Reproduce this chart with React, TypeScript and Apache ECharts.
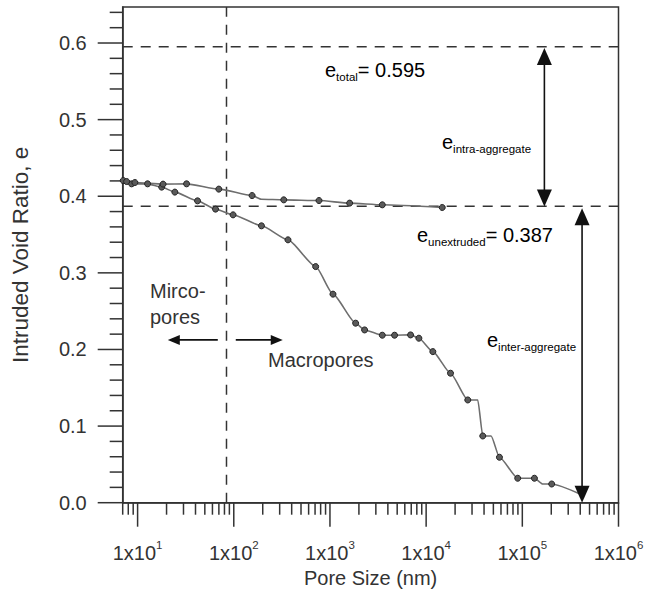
import React, { useEffect, useRef } from "react";
import * as echarts from "echarts";

// ---- data ----
// intrusion (lower) curve: pore size (nm), void ratio e, circle marker drawn (1) or not (0)
const intrusionSize = [7.09, 8.66, 12.7, 17.8, 24.4, 42.0, 64.6, 98.3, 194, 366, 710, 1075, 1849, 2292, 3501, 4697, 6887, 8401, 11740, 17920, 27100, 34430, 38800, 47400, 57830, 89600, 133600, 162800, 202000, 408000];
const intrusionE = [0.4205, 0.4162, 0.4162, 0.4119, 0.4054, 0.394, 0.3832, 0.3757, 0.3614, 0.3431, 0.3082, 0.2722, 0.2343, 0.2255, 0.2186, 0.2186, 0.219, 0.2147, 0.1972, 0.169, 0.1341, 0.1341, 0.0871, 0.0871, 0.0593, 0.0319, 0.0319, 0.0244, 0.0244, 0.0107];
const intrusionMarked = [1, 1, 1, 1, 1, 1, 1, 1, 1, 1, 1, 1, 1, 1, 1, 1, 1, 1, 1, 1, 1, 0, 1, 0, 1, 1, 1, 0, 1, 0];

// extrusion (upper) curve
const extrusionSize = [7.09, 7.69, 9.37, 18.4, 32.3, 69.9, 155, 194, 331, 769, 1602, 3501, 14700];
const extrusionE = [0.4205, 0.4192, 0.4179, 0.4158, 0.4162, 0.4093, 0.4009, 0.396, 0.3953, 0.3944, 0.391, 0.3888, 0.3853];
const extrusionMarked = [0, 1, 1, 1, 1, 1, 1, 0, 1, 1, 1, 1, 1];

// reference levels
const eTotal = 0.595;
const eUnextruded = 0.387;
const poreBoundary = 84; // nm, micro / macro boundary

// axes
const xMin = 7;
const xMax = 1e6;
const yMin = 0;
const yMax = 0.647;
const xMajorTicks = [10, 100, 1000, 10000, 100000, 1000000];
const xMinorMultipliers = [2, 3, 4, 5, 6, 7, 8, 9];
const xLeadingMinorTicks = [7, 8, 9];
const yMajorTicks = [0, 0.1, 0.2, 0.3, 0.4, 0.5, 0.6];
const yMinorSteps = [0.02, 0.04, 0.06, 0.08];
const yTickLabels = ["0.0", "0.1", "0.2", "0.3", "0.4", "0.5", "0.6"];

// annotation arrows: [x1, y1, x2, y2] (head at both ends for vertical ones, at end for horizontal)
const vArrows = [
  [169600, 0.5934, 169600, 0.3866],
  [418000, 0.3843, 418000, 0.0],
];
const hArrows = [
  [68.2, 0.2125, 20.6, 0.2125],
  [104.9, 0.2125, 322.8, 0.2125],
];

const FONT = "'Liberation Sans', Arial, Helvetica, sans-serif";
const INK = "#333";

export default function App() {
  const ref = useRef<HTMLDivElement>(null);

  useEffect(() => {
    if (!ref.current) return;
    const chart = echarts.init(ref.current, undefined, { renderer: "svg" });

    const xMinor: number[] = [...xLeadingMinorTicks];
    for (let i = 0; i < xMajorTicks.length - 1; i++) {
      for (const m of xMinorMultipliers) xMinor.push(xMajorTicks[i] * m);
    }
    const yMinor: number[] = [];
    for (let i = 0; i < yMajorTicks.length; i++) {
      for (const s of yMinorSteps) {
        const v = +(yMajorTicks[i] + s).toFixed(3);
        if (v < yMax) yMinor.push(v);
      }
    }

    const xTickData = [
      ...xMajorTicks.map((v) => [v, yMin, 24]),
      ...xMinor.map((v) => [v, yMin, 12]),
    ];
    const yTickData = [
      ...yMajorTicks.map((v) => [xMin, v, 25]),
      ...yMinor.map((v) => [xMin, v, 13]),
    ];

    const curve = (xs: number[], ys: number[], mk: number[]) =>
      xs.map((x, i) => ({ value: [x, ys[i]], symbol: mk[i] ? "circle" : "none" }));

    const subRich = {
      e: { fontSize: 20, fontFamily: FONT, color: INK, verticalAlign: "middle", lineHeight: 26 },
      s: { fontSize: 11.5, fontFamily: FONT, color: INK, verticalAlign: "bottom", lineHeight: 26 },
    };

    const arrowRender = (big: boolean) => (params: any, api: any) => {
      const p1 = api.coord([api.value(0), api.value(1)]);
      const p2 = api.coord([api.value(2), api.value(3)]);
      const dx = p2[0] - p1[0];
      const dy = p2[1] - p1[1];
      const L = Math.sqrt(dx * dx + dy * dy) || 1;
      const ux = dx / L;
      const uy = dy / L;
      const nx = -uy;
      const ny = ux;
      const hl = big ? 17 : 12;
      const hw = big ? 15 : 10;
      const head = (tip: number[], dirx: number, diry: number) => ({
        type: "polygon",
        shape: {
          points: [
            [tip[0], tip[1]],
            [tip[0] - dirx * hl + nx * hw / 2, tip[1] - diry * hl + ny * hw / 2],
            [tip[0] - dirx * hl - nx * hw / 2, tip[1] - diry * hl - ny * hw / 2],
          ],
        },
        style: { fill: "#111" },
      });
      const children: any[] = [
        {
          type: "line",
          shape: {
            x1: p1[0] + (big ? ux * hl * 0.8 : 0),
            y1: p1[1] + (big ? uy * hl * 0.8 : 0),
            x2: p2[0] - ux * hl * 0.8,
            y2: p2[1] - uy * hl * 0.8,
          },
          style: { stroke: "#111", lineWidth: 1.6 },
        },
        head(p2, ux, uy),
      ];
      if (big) children.push(head(p1, -ux, -uy));
      return { type: "group", children };
    };

    const option: any = {
      animation: false,
      grid: {
        left: 122.7,
        right: 30.5,
        top: 7,
        bottom: 103.3,
        show: true,
        borderColor: INK,
        borderWidth: 1.5,
        backgroundColor: "transparent",
      },
      xAxis: {
        type: "log",
        logBase: 10,
        min: xMin,
        max: xMax,
        axisLine: { show: true, lineStyle: { color: INK, width: 1.5 } },
        axisTick: { show: false },
        splitLine: { show: false },
        minorTick: { show: false },
        axisLabel: {
          margin: 36,
          formatter: (v: number) => {
            const lg = Math.log10(v);
            const n = Math.round(lg);
            if (Math.abs(lg - n) > 1e-6) return "";
            return "{b|1x10}{s|" + n + "}";
          },
          rich: {
            b: { fontSize: 20, fontFamily: FONT, color: INK, verticalAlign: "bottom", lineHeight: 24 },
            s: { fontSize: 11.5, fontFamily: FONT, color: INK, verticalAlign: "top", lineHeight: 24 },
          },
        },
        name: "Pore Size (nm)",
        nameLocation: "middle",
        nameGap: 64,
        nameTextStyle: { fontSize: 20, fontFamily: FONT, color: INK },
      },
      yAxis: {
        type: "value",
        min: yMin,
        max: yMax,
        interval: 0.1,
        axisLine: { show: true, lineStyle: { color: INK, width: 1.5 } },
        axisTick: { show: false },
        splitLine: { show: false },
        axisLabel: {
          margin: 36,
          fontSize: 20,
          fontFamily: FONT,
          color: INK,
          formatter: (v: number) => {
            const i = yMajorTicks.findIndex((m) => Math.abs(m - v) < 1e-9);
            return i >= 0 ? yTickLabels[i] : "";
          },
        },
        name: "Intruded Void Ratio, e",
        nameLocation: "middle",
        nameGap: 91,
        nameTextStyle: { fontSize: 22.5, fontFamily: FONT, color: INK },
      },
      series: [
        {
          type: "line",
          data: [[xMin, eTotal], [xMax, eTotal]],
          symbol: "none",
          lineStyle: { color: INK, width: 1.5, type: [10, 8] },
          silent: true,
          z: 1,
        },
        {
          type: "line",
          data: [[xMin, eUnextruded], [xMax, eUnextruded]],
          symbol: "none",
          lineStyle: { color: INK, width: 1.5, type: [10, 8] },
          silent: true,
          z: 1,
        },
        {
          type: "line",
          data: [[poreBoundary, yMin], [poreBoundary, yMax]],
          symbol: "none",
          lineStyle: { color: INK, width: 1.5, type: [10, 8] },
          silent: true,
          z: 1,
        },
        {
          type: "line",
          data: curve(intrusionSize, intrusionE, intrusionMarked),
          smooth: 0.2,
          smoothMonotone: "x",
          symbolSize: 6,
          lineStyle: { color: "#6e6e6e", width: 1.6 },
          itemStyle: { color: "#5a5a5a", borderColor: "#222", borderWidth: 1 },
          silent: true,
          z: 3,
        },
        {
          type: "line",
          data: curve(extrusionSize, extrusionE, extrusionMarked),
          smooth: 0.2,
          smoothMonotone: "x",
          symbolSize: 6,
          lineStyle: { color: "#6e6e6e", width: 1.6 },
          itemStyle: { color: "#5a5a5a", borderColor: "#222", borderWidth: 1 },
          silent: true,
          z: 3,
        },
        {
          type: "custom",
          data: vArrows,
          renderItem: arrowRender(true),
          clip: false,
          silent: true,
          z: 4,
        },
        {
          type: "custom",
          data: hArrows,
          renderItem: arrowRender(false),
          clip: false,
          silent: true,
          z: 4,
        },
        {
          type: "custom",
          data: xTickData,
          clip: false,
          silent: true,
          renderItem: (params: any, api: any) => {
            const p = api.coord([api.value(0), api.value(1)]);
            const len = api.value(2);
            return {
              type: "line",
              shape: { x1: p[0], y1: p[1], x2: p[0], y2: p[1] + len },
              style: { stroke: INK, lineWidth: 1.5 },
            };
          },
        },
        {
          type: "custom",
          data: yTickData,
          clip: false,
          silent: true,
          renderItem: (params: any, api: any) => {
            const p = api.coord([api.value(0), api.value(1)]);
            const len = api.value(2);
            return {
              type: "line",
              shape: { x1: p[0] - len, y1: p[1], x2: p[0], y2: p[1] },
              style: { stroke: INK, lineWidth: 1.5 },
            };
          },
        },
      ],
      graphic: [
        { type: "text", x: 325, y: 70, style: { text: "{e|e}{s|total}{e|= 0.595}", rich: subRich, verticalAlign: "middle" } },
        { type: "text", x: 442, y: 142, style: { text: "{e|e}{s|intra-aggregate}", rich: subRich, verticalAlign: "middle" } },
        { type: "text", x: 417, y: 235, style: { text: "{e|e}{s|unextruded}{e|= 0.387}", rich: subRich, verticalAlign: "middle" } },
        { type: "text", x: 487, y: 340, style: { text: "{e|e}{s|inter-aggregate}", rich: subRich, verticalAlign: "middle" } },
        { type: "text", x: 150, y: 291, style: { text: "Mirco-", fontSize: 20, fontFamily: FONT, fill: INK, verticalAlign: "middle" } },
        { type: "text", x: 150, y: 317, style: { text: "pores", fontSize: 20, fontFamily: FONT, fill: INK, verticalAlign: "middle" } },
        { type: "text", x: 268, y: 360, style: { text: "Macropores", fontSize: 20, fontFamily: FONT, fill: INK, verticalAlign: "middle" } },
      ],
    };

    chart.setOption(option);
    return () => chart.dispose();
  }, []);

  return (
    <div
      ref={ref}
      style={{ position: "fixed", left: 0, top: 0, width: "649px", height: "606px", background: "#fff" }}
    />
  );
}
